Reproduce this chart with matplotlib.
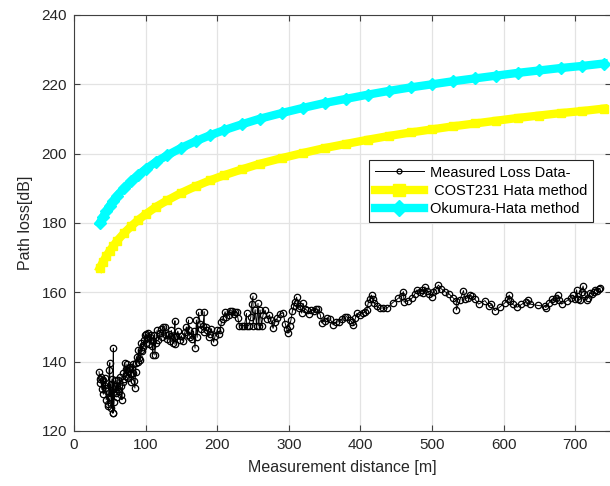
import numpy as np
import matplotlib
matplotlib.use("Agg")
import matplotlib.pyplot as plt

plt.rcParams['font.family'] = ['Liberation Sans', 'DejaVu Sans']

# Measured path loss samples (distance in m, loss in dB)
meas_d = [35, 36, 37, 38, 39, 40, 41, 42, 43, 44, 45, 46, 47, 48, 49, 50, 50, 51, 52, 53,
          54, 55, 55, 56, 57, 58, 59, 60, 61, 62, 63, 64, 65, 66, 67, 68, 69, 70, 71, 72,
          73, 74, 75, 76, 77, 78, 79, 80, 81, 82, 83, 84, 85, 86, 87, 88, 89, 90, 91, 92,
          93, 94, 95, 96, 97, 98, 99, 100, 101, 102, 104, 105, 106, 108, 109, 110, 111, 112, 113, 114,
          116, 118, 120, 121, 123, 125, 127, 128, 130, 132, 134, 136, 138, 140, 141, 141, 143, 145, 148, 150,
          152, 155, 157, 159, 160, 160, 162, 165, 167, 169, 171, 172, 174, 176, 178, 180, 182, 182, 184, 186,
          188, 190, 192, 195, 197, 200, 202, 204, 206, 208, 211, 213, 216, 218, 220, 223, 225, 227, 229, 231,
          235, 238, 241, 241, 244, 247, 248, 250, 250, 253, 255, 257, 258, 260, 262, 264, 267, 270, 273, 275,
          278, 281, 284, 288, 292, 295, 297, 299, 301, 303, 305, 307, 309, 311, 312, 314, 316, 318, 320, 322,
          325, 328, 331, 335, 338, 341, 344, 346, 350, 354, 358, 362, 366, 370, 374, 378, 381, 385, 388, 390,
          393, 395, 399, 403, 406, 409, 411, 413, 415.6, 417, 419, 423, 427, 432, 437, 445, 453, 458, 460, 461,
          466, 472, 476, 479, 483, 486, 488, 490, 493, 496, 499.6, 502, 505, 509, 513, 518, 524, 529, 534, 534,
          539, 544, 546, 550, 553, 556, 560, 565, 574, 580, 582.6, 588, 595, 602, 606, 608, 609, 613, 619, 625,
          631, 634, 637, 648, 658, 659, 663, 667, 670, 673, 676, 678, 681, 688, 694, 697, 700, 702, 704, 707,
          709, 711, 713, 716, 718, 721, 724, 726, 728, 731, 733, 735]
meas_loss = [137.1, 135.0, 133.8, 135.5, 132.0, 134.7, 130.6, 133.2, 132.4, 135.3, 129.0, 131.5, 127.9, 127.2, 137.5, 139.7, 129.8, 133.6, 126.7, 135.0,
             125.1, 143.9, 125.2, 128.3, 133.1, 131.0, 134.6, 129.9, 134.8, 132.2, 131.4, 135.5, 133.0, 130.5, 129.0, 134.2, 136.8, 135.0, 139.6, 137.8,
             136.0, 139.3, 137.2, 135.4, 138.1, 138.6, 136.5, 134.0, 137.9, 139.4, 136.7, 134.3, 132.4, 137.0, 139.5, 141.2, 140.0, 143.4, 141.0, 140.5,
             143.5, 145.3, 143.0, 144.1, 144.8, 146.2, 147.7, 145.5, 148.0, 146.8, 148.3, 145.2, 147.0, 147.7, 144.6, 142.0, 146.0, 147.7, 141.9, 145.5,
             149.0, 146.3, 148.2, 149.4, 147.0, 150.1, 150.1, 147.7, 146.5, 148.0, 146.0, 149.0, 145.5, 147.2, 151.8, 145.0, 147.5, 148.8, 146.3, 147.5,
             146.0, 148.6, 150.0, 147.8, 152.0, 149.0, 147.2, 146.5, 148.8, 143.9, 152.0, 147.0, 154.2, 151.0, 149.5, 150.2, 154.4, 148.5, 150.0, 149.0,
             147.2, 148.0, 149.5, 145.6, 147.3, 149.0, 148.0, 149.1, 151.5, 152.3, 154.4, 152.8, 153.5, 154.7, 154.7, 153.8, 154.4, 154.4, 152.5, 150.4,
             150.4, 150.4, 153.9, 150.4, 150.4, 152.9, 156.5, 158.9, 150.4, 155.0, 150.4, 156.8, 150.4, 154.9, 150.4, 153.5, 154.8, 152.3, 153.5, 152.0,
             149.6, 151.5, 152.6, 153.8, 154.1, 151.0, 149.5, 148.2, 150.2, 152.0, 154.5, 156.0, 157.3, 158.6, 157.0, 155.5, 156.0, 154.0, 156.8, 155.2,
             154.9, 153.8, 155.0, 154.5, 155.2, 155.1, 153.5, 151.2, 151.8, 152.5, 152.2, 150.6, 151.4, 151.5, 152.3, 152.8, 153.0, 152.0, 151.5, 150.6,
             152.5, 153.9, 153.5, 154.0, 154.3, 154.9, 157.0, 158.0, 159.2, 158.0, 157.0, 156.0, 155.4, 155.5, 155.4, 157.0, 158.3, 159.0, 160.2, 157.2,
             157.5, 158.3, 159.5, 160.7, 160.0, 160.7, 159.8, 161.6, 160.5, 159.6, 158.7, 160.0, 160.7, 162.1, 161.0, 160.2, 159.5, 158.5, 157.5, 154.9,
             157.8, 160.5, 158.0, 158.5, 159.2, 158.9, 158.0, 156.6, 157.6, 156.0, 156.5, 154.7, 155.8, 157.0, 158.0, 159.2, 157.4, 156.5, 155.7, 156.5,
             157.3, 157.8, 156.6, 156.2, 156.0, 155.6, 156.8, 158.0, 157.5, 158.4, 159.2, 157.8, 156.6, 157.5, 158.5, 159.2, 158.2, 160.7, 158.0, 157.8,
             160.2, 161.8, 159.5, 157.8, 158.5, 159.7, 159.5, 160.2, 160.7, 160.5, 161.0, 161.2]

# Model predictions (distance in m, loss in dB)
model_d = [36, 40, 45, 50, 55, 60, 70, 80, 90, 100, 115, 130, 150, 170, 190, 210, 235,
           260, 290, 320, 350, 380, 410, 440, 470, 500, 530, 560, 590, 620, 650, 680, 710, 740]
cost231 = [167.0, 168.6, 170.4, 172.0, 173.4, 174.8, 177.1, 179.1, 180.9, 182.5, 184.7, 186.5,
           188.7, 190.6, 192.3, 193.8, 195.5, 197.1, 198.7, 200.2, 201.6, 202.8, 204.0, 205.1,
           206.1, 207.0, 207.9, 208.7, 209.5, 210.3, 211.0, 211.7, 212.3, 213.0]
okumura = [180.0, 181.6, 183.4, 185.0, 186.4, 187.8, 190.1, 192.1, 193.9, 195.5, 197.7, 199.5,
           201.7, 203.6, 205.3, 206.8, 208.5, 210.1, 211.7, 213.2, 214.6, 215.8, 217.0, 218.1,
           219.1, 220.0, 220.9, 221.7, 222.5, 223.3, 224.0, 224.7, 225.3, 226.0]

x_ticks = [0, 100, 200, 300, 400, 500, 600, 700]
y_ticks = [120, 140, 160, 180, 200, 220, 240]

fig = plt.figure(figsize=(6.1, 4.86), dpi=100)
ax = fig.add_axes([0.1213, 0.1132, 0.8803, 0.856])

ax.plot(meas_d, meas_loss, color='black', linewidth=0.7, marker='o', markersize=4.6,
        markerfacecolor='none', markeredgewidth=0.9, label='Measured Loss Data-', zorder=3)
ax.plot(model_d, cost231, color='#ffff00', linewidth=6, marker='s', markersize=5.5,
        label=' COST231 Hata method', zorder=2)
ax.plot(model_d, okumura, color='#00ffff', linewidth=6, marker='D', markersize=6,
        label='Okumura-Hata method', zorder=2)

ax.set_xlim(0, 750)
ax.set_ylim(120, 240)
ax.set_xticks(x_ticks)
ax.set_yticks(y_ticks)
ax.grid(True, color='#e3e3e3', linewidth=0.9)
ax.set_axisbelow(True)

ax.tick_params(direction='in', length=4, width=0.8, colors='#404040', labelcolor='#262626',
               labelsize=11, top=True, right=True, pad=5)
for sp in ax.spines.values():
    sp.set_color('#404040')
    sp.set_linewidth(0.8)

ax.set_xlabel('Measurement distance [m]', fontsize=11.5, color='#262626', labelpad=6)
ax.set_ylabel('Path loss[dB]', fontsize=11.5, color='#262626', labelpad=6)

leg = ax.legend(loc='upper left', bbox_to_anchor=(0.549, 0.652), fontsize=10.5,
                handlelength=3.4, borderaxespad=0, frameon=True, fancybox=False,
                borderpad=0.4, labelspacing=0.3, handletextpad=0.4)
for h, ms in zip(leg.legend_handles, [3.5, 8, 8]):
    h.set_markersize(ms)
leg.get_frame().set_edgecolor('#262626')
leg.get_frame().set_linewidth(0.8)
leg.get_frame().set_alpha(1)

fig.savefig('out.png', dpi=100)
